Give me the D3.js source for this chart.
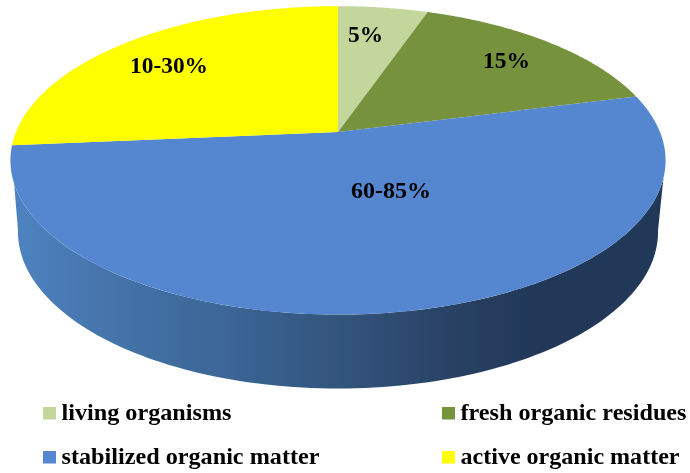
<!DOCTYPE html>
<html><head><meta charset="utf-8">
<script src="https://cdn.jsdelivr.net/npm/d3@7"></script>
<style>html,body{margin:0;padding:0;background:#fff}svg{display:block}text{font-family:"Liberation Serif",serif;font-weight:bold;fill:#000}</style>
</head><body><svg width="690" height="473"></svg>
<script>
const categories=["living organisms","fresh organic residues","stabilized organic matter","active organic matter"];
const shares=[5.3,15.7,52.6,26.4];
const sliceLabels=["5%","15%","60-85%","10-30%"];
const colors=["#c3d69b","#76923c","#5486d0","#ffff00"];
const labelPos=[[365.5,42],[506.5,68],[391,198],[169,73]];
const labelWidth=[35,47,80,78];
const legendPos=[[43,413],[442,413],[43,457],[442,457]];
const legendWidth=[170,226,258,219];
const wallStops=[[0,"#4f83c2"],[0.14,"#4675ac"],[0.33,"#3b6696"],[0.5,"#33547c"],[0.68,"#294164"],[0.8,"#223858"],[1,"#223858"]];

const cx=338,apexY=132,rx=322,ry=149,k=0.184;
const svg=d3.select("svg");
const project=(a,dy=0,sx=1,sy=1)=>{ // a: clockwise from 12 o'clock
  const x=Math.sin(a),y=-Math.cos(a),w=1-k*y;
  return [cx+sx*rx*x/w, apexY+dy+sy*ry*y/w];
};
const pie=d3.pie().sort(null).startAngle(0).endAngle(2*Math.PI)(shares);
const line=d3.line();
const arcPts=(a0,a1,dy,sx,sy)=>d3.range(0,121).map(i=>project(a0+(a1-a0)*i/120,dy,sx,sy));
const deg=d3.scaleLinear().domain([0,180]).range([0,Math.PI]);

const defs=svg.append("defs");
const gradX=d3.scaleLinear().domain([0,1]).range([10,666]);
const g=defs.append("linearGradient").attr("id","wall").attr("gradientUnits","userSpaceOnUse")
  .attr("x1",gradX(0)).attr("x2",gradX(1)).attr("y1",0).attr("y2",0);
wallStops.forEach(d=>g.append("stop").attr("offset",d[0]).attr("stop-color",d[1]));
defs.append("filter").attr("id","soft").append("feGaussianBlur").attr("stdDeviation",0.5);
const root=svg.append("g").attr("filter","url(#soft)");

// side wall: front part of the top rim joined to the lower rim
const wallShape=[...arcPts(deg(107),deg(251),0,1,1),...arcPts(deg(260),deg(100),71,0.977,1.016)];
root.append("path").attr("d",line(wallShape)+"Z").attr("fill","url(#wall)");

// top faces
root.selectAll("path.slice").data(pie).join("path").attr("class","slice")
  .attr("fill",(d,i)=>colors[i])
  .attr("d",d=>line([[cx,apexY],...arcPts(d.startAngle,d.endAngle,0,1,1)])+"Z");

// labels
root.selectAll("text.lab").data(sliceLabels).join("text").attr("class","lab")
  .attr("x",(d,i)=>labelPos[i][0]).attr("y",(d,i)=>labelPos[i][1])
  .attr("text-anchor","middle").attr("font-size",24)
  .attr("textLength",(d,i)=>labelWidth[i]).attr("lengthAdjust","spacingAndGlyphs").text(d=>d);

// legend
const leg=root.selectAll("g.leg").data(categories).join("g").attr("class","leg")
  .attr("transform",(d,i)=>`translate(${legendPos[i][0]},${legendPos[i][1]})`);
leg.append("rect").attr("x",0).attr("y",-6).attr("width",13).attr("height",12.5).attr("fill",(d,i)=>colors[i]);
leg.append("text").attr("x",18.5).attr("y",7).attr("font-size",23)
  .attr("textLength",(d,i)=>legendWidth[i]).attr("lengthAdjust","spacingAndGlyphs").text(d=>d);
</script></body></html>
